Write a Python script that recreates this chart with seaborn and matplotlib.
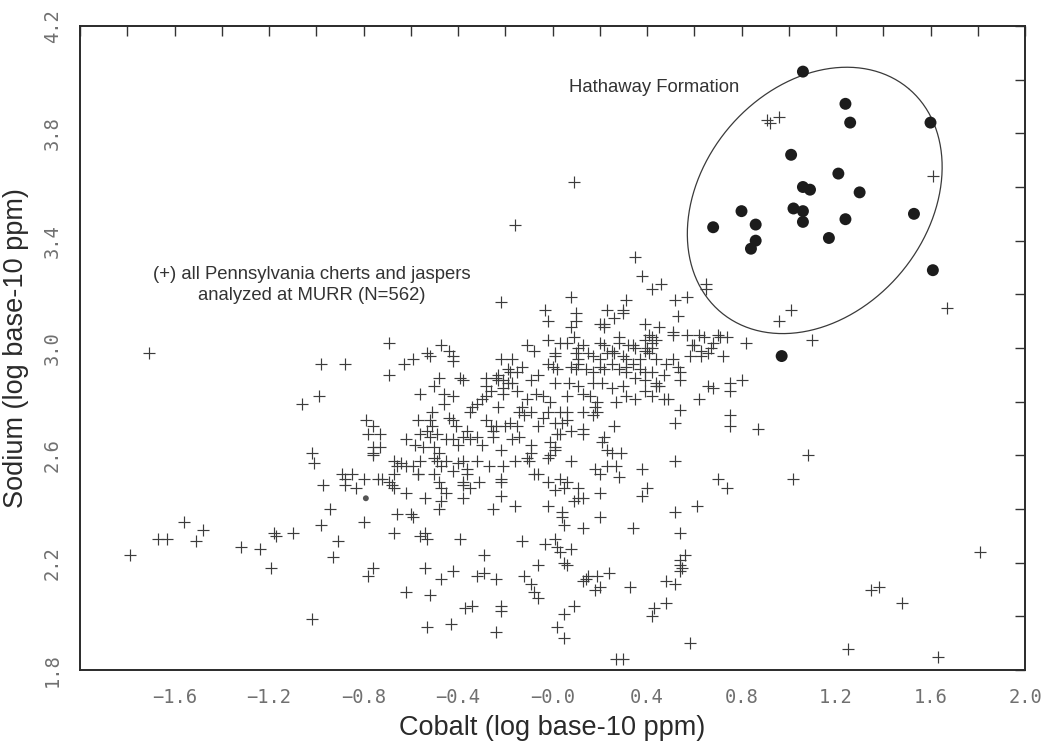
import numpy as np
import matplotlib
matplotlib.use("Agg")
import matplotlib.pyplot as plt
from matplotlib.ticker import MultipleLocator
import seaborn as sns

# ---- data ----
# all Pennsylvania cherts and jaspers (+)
cobalt_all = [
    # far left / left side
    -1.71, -0.98, -0.99, -1.06, -1.02, -1.01, -0.97, -0.94, -0.98, -0.91,
    -0.93, -1.56, -1.48, -1.67, -1.63, -1.51, -1.79, -1.32, -1.24, -1.18,
    -1.17, -1.10, -1.19, -1.02,
    # upper-left dense block
    -0.22, -0.69, -0.88, -0.69, -0.63, -0.59, -0.53, -0.52, -0.47, -0.44,
    -0.42, -0.42, -0.22, -0.17, -0.13, -0.15, -0.19, -0.18, -0.48, -0.50,
    -0.39, -0.38, -0.28, -0.24, -0.23, -0.23, -0.21, -0.19, -0.28, -0.26,
    -0.21, -0.21, -0.17, -0.15, -0.11, -0.56, -0.46, -0.42, -0.46, -0.28,
    -0.30, -0.32, -0.34, -0.35, -0.23, -0.13, -0.14, -0.12, -0.51, -0.44,
    -0.57, -0.52, -0.51, -0.42, -0.41, -0.28, -0.26, -0.24, -0.25, -0.20,
    -0.18, -0.15, -0.79, -0.76, -0.78, -0.73, -0.76, -0.76, -0.73, -0.76,
    -0.62, -0.58, -0.56, -0.53, -0.52, -0.49, -0.55, -0.50, -0.48, -0.45,
    -0.42, -0.40, -0.38, -0.36, -0.35, -0.32, -0.30, -0.25, -0.22, -0.17,
    -0.14, -0.67, -0.66, -0.64, -0.62, -0.59, -0.56, -0.57, -0.50, -0.49,
    -0.47, -0.45, -0.40, -0.38, -0.36, -0.32, -0.27, -0.21, -0.16, -0.11,
    # lower-left block
    -0.89, -0.88, -0.88, -0.85, -0.83, -0.80, -0.74, -0.72, -0.69, -0.68,
    -0.67, -0.67, -0.62, -0.57, -0.54, -0.50, -0.48, -0.47, -0.45, -0.47,
    -0.48, -0.42, -0.38, -0.38, -0.36, -0.35, -0.31, -0.38, -0.22, -0.22,
    -0.22, -0.25, -0.16, -0.66, -0.60, -0.59, -0.80, -0.67, -0.56, -0.54,
    -0.53, -0.39, -0.13, -0.29, -0.76, -0.78, -0.54, -0.42, -0.47, -0.32,
    -0.29, -0.24, -0.12, -0.62, -0.52, -0.37, -0.34, -0.22, -0.22, -0.53,
    -0.43, -0.24,
    # upper-right dense block
    0.35, 0.38, 0.46, 0.42, 0.65, 0.65, 0.31, 0.52, 0.57, 0.08,
    -0.03, -0.02, 0.23, 0.30, 0.30, 0.26, 0.10, 0.10, 0.08, 0.20,
    0.22, 0.22, 0.53, 0.39, 0.45, 0.51, 0.51, 0.57, 0.62, 0.64,
    0.70, 0.71, 0.74, 0.82, 0.68, 0.67, 0.66, 0.59, 0.60, 0.63,
    0.63, 0.72, 0.58, 0.41, 0.42, 0.42, 0.40, 0.42, 0.39, 0.41,
    0.39, 0.44, 0.28, 0.28, 0.32, 0.34, 0.35, 0.20, 0.22, 0.25,
    -0.02, 0.03, 0.06, 0.09, 0.11, 0.13, -0.11, -0.08, 0.01, 0.01,
    0.10, 0.11, 0.15, 0.17, 0.20, 0.23, 0.26, 0.30, 0.31, 0.34,
    0.31, 0.37, -0.02, 0.00, 0.02, 0.08, 0.10, 0.11, 0.14, 0.17,
    0.20, 0.22, 0.25, 0.28, 0.31, 0.44, 0.48, 0.51, 0.53, 0.54,
    0.54, 0.47, 0.37, 0.39, 0.42, 0.35, 0.39, 0.44, 0.45, -0.09,
    -0.06, 0.01, 0.07, 0.11, 0.17, 0.21, 0.25, 0.30, -0.07, -0.04,
    -0.01, 0.06, 0.13, 0.16, 0.19, 0.18, 0.27, 0.31, 0.35, 0.39,
    0.42, 0.44, 0.47, 0.49, 0.66, 0.68, 0.75, 0.80, 0.75, 0.62,
    0.54, 0.75, -0.09, -0.04, -0.02, 0.03, 0.06, 0.13, 0.17, 0.19,
    # lower-right block
    -0.06, 0.01, 0.04, 0.06, 0.02, 0.03, 0.08, 0.13, 0.13, 0.26,
    0.22, 0.21, -0.09, -0.09, -0.10, -0.01, 0.01, 0.01, -0.02, -0.01,
    0.23, 0.25, 0.29, 0.08, 0.52, -0.08, -0.06, 0.18, 0.20, 0.23,
    0.27, 0.28, 0.38, -0.02, 0.03, 0.06, 0.01, 0.05, 0.11, 0.40,
    0.20, 0.38, 0.09, 0.11, 0.13, -0.02, 0.70, 0.74, 0.61, 0.52,
    0.04, 0.04, 0.05, 0.20, 0.13, 0.34, 0.54, -0.03, 0.01, 0.02,
    0.03, 0.08, 0.05, 0.06, -0.06, 0.56, 0.54, 0.54, 0.54, 0.55,
    0.24, 0.19, 0.15, 0.13, 0.14, 0.20, 0.18, 0.33, 0.48, 0.52,
    -0.09, -0.08, -0.06, 0.09, 0.05, 0.48, 0.43, 0.42, 0.02, 0.05,
    0.58, 0.27, 0.30, 0.75, 0.87, 0.52,
    # scattered outliers (right and top)
    0.91, 0.92, 0.96, 1.61, 1.01, 0.96, 1.67, 1.10,
    1.08, 1.02, 1.81, 1.35, 1.38, 1.48, 1.25, 1.63,
    0.09, -0.16,
]
sodium_all = [
    # far left / left side
    2.98, 2.94, 2.82, 2.79, 2.61, 2.57, 2.49, 2.40, 2.34, 2.28,
    2.22, 2.35, 2.32, 2.29, 2.29, 2.28, 2.23, 2.26, 2.25, 2.31,
    2.30, 2.31, 2.18, 1.99,
    # upper-left dense block
    3.17, 3.02, 2.94, 2.90, 2.94, 2.96, 2.98, 2.97, 3.01, 2.99,
    2.97, 2.95, 2.96, 2.96, 2.93, 2.91, 2.92, 2.91, 2.89, 2.86,
    2.89, 2.88, 2.89, 2.89, 2.88, 2.90, 2.88, 2.87, 2.86, 2.84,
    2.83, 2.85, 2.87, 2.84, 2.81, 2.83, 2.83, 2.82, 2.79, 2.82,
    2.81, 2.79, 2.78, 2.76, 2.78, 2.78, 2.76, 2.75, 2.76, 2.74,
    2.73, 2.73, 2.71, 2.73, 2.71, 2.73, 2.71, 2.71, 2.69, 2.71,
    2.72, 2.71, 2.73, 2.71, 2.68, 2.68, 2.63, 2.61, 2.63, 2.60,
    2.66, 2.64, 2.68, 2.69, 2.67, 2.68, 2.63, 2.63, 2.61, 2.66,
    2.66, 2.64, 2.67, 2.69, 2.66, 2.67, 2.64, 2.67, 2.62, 2.66,
    2.67, 2.58, 2.56, 2.57, 2.56, 2.56, 2.58, 2.53, 2.59, 2.58,
    2.56, 2.58, 2.57, 2.58, 2.55, 2.58, 2.56, 2.56, 2.58, 2.59,
    # lower-left block
    2.53, 2.51, 2.49, 2.53, 2.48, 2.51, 2.51, 2.51, 2.50, 2.49,
    2.53, 2.48, 2.46, 2.53, 2.44, 2.53, 2.50, 2.48, 2.46, 2.43,
    2.40, 2.54, 2.50, 2.49, 2.53, 2.48, 2.50, 2.44, 2.51, 2.50,
    2.45, 2.40, 2.41, 2.38, 2.38, 2.37, 2.35, 2.31, 2.30, 2.31,
    2.29, 2.29, 2.28, 2.23, 2.18, 2.15, 2.18, 2.17, 2.14, 2.15,
    2.16, 2.14, 2.15, 2.09, 2.08, 2.03, 2.04, 2.04, 2.02, 1.96,
    1.97, 1.94,
    # upper-right dense block
    3.34, 3.27, 3.24, 3.22, 3.24, 3.22, 3.18, 3.18, 3.19, 3.19,
    3.14, 3.10, 3.14, 3.14, 3.13, 3.11, 3.13, 3.10, 3.08, 3.09,
    3.08, 3.09, 3.12, 3.09, 3.08, 3.06, 3.05, 3.05, 3.05, 3.04,
    3.05, 3.04, 3.04, 3.02, 3.02, 3.00, 2.98, 3.01, 3.01, 2.99,
    2.97, 2.97, 2.97, 3.05, 3.04, 3.02, 3.00, 3.00, 2.99, 2.98,
    3.03, 3.03, 3.04, 3.02, 3.01, 3.01, 3.00, 3.02, 3.01, 2.99,
    3.03, 3.02, 3.02, 3.04, 3.00, 3.01, 3.01, 2.99, 2.98, 2.97,
    2.98, 2.96, 2.98, 2.97, 2.96, 2.98, 2.98, 2.97, 2.96, 2.94,
    2.93, 2.96, 2.94, 2.93, 2.92, 2.93, 2.92, 2.94, 2.92, 2.91,
    2.93, 2.92, 2.94, 2.92, 2.91, 2.96, 2.94, 2.96, 2.93, 2.91,
    2.88, 2.90, 2.92, 2.91, 2.91, 2.89, 2.88, 2.87, 2.86, 2.88,
    2.90, 2.87, 2.87, 2.86, 2.87, 2.87, 2.85, 2.86, 2.83, 2.82,
    2.80, 2.82, 2.83, 2.82, 2.80, 2.78, 2.80, 2.82, 2.81, 2.84,
    2.82, 2.86, 2.81, 2.81, 2.86, 2.85, 2.87, 2.88, 2.84, 2.81,
    2.77, 2.75, 2.76, 2.74, 2.76, 2.76, 2.76, 2.76, 2.75, 2.76,
    # lower-right block
    2.71, 2.72, 2.72, 2.73, 2.68, 2.68, 2.69, 2.70, 2.68, 2.71,
    2.67, 2.65, 2.64, 2.61, 2.58, 2.65, 2.63, 2.62, 2.59, 2.60,
    2.62, 2.61, 2.61, 2.58, 2.58, 2.53, 2.53, 2.55, 2.53, 2.56,
    2.56, 2.52, 2.55, 2.50, 2.51, 2.50, 2.47, 2.48, 2.48, 2.48,
    2.46, 2.45, 2.43, 2.44, 2.44, 2.41, 2.51, 2.48, 2.41, 2.39,
    2.39, 2.37, 2.34, 2.37, 2.33, 2.33, 2.31, 2.27, 2.29, 2.26,
    2.24, 2.25, 2.20, 2.19, 2.19, 2.23, 2.21, 2.19, 2.17, 2.18,
    2.16, 2.15, 2.15, 2.13, 2.14, 2.11, 2.10, 2.11, 2.13, 2.12,
    2.12, 2.09, 2.07, 2.04, 2.01, 2.05, 2.03, 2.00, 1.96, 1.92,
    1.90, 1.84, 1.84, 2.71, 2.70, 2.72,
    # scattered outliers (right and top)
    3.85, 3.84, 3.86, 3.64, 3.14, 3.10, 3.15, 3.03,
    2.60, 2.51, 2.24, 2.10, 2.11, 2.05, 1.88, 1.85,
    3.62, 3.46,
]

# Hathaway Formation samples (filled circles)
hathaway_cobalt = [1.06, 1.24, 1.26, 1.60, 1.01, 1.21, 1.06, 1.09, 1.30, 0.80,
                   1.02, 1.06, 1.06, 1.24, 1.53, 0.86, 0.68, 0.86, 0.84, 1.17,
                   1.61, 0.97]
hathaway_sodium = [4.03, 3.91, 3.84, 3.84, 3.72, 3.65, 3.60, 3.59, 3.58, 3.51,
                   3.52, 3.51, 3.47, 3.48, 3.50, 3.46, 3.45, 3.40, 3.37, 3.41,
                   3.29, 2.97]

# one small dot inside the main cloud
small_dot_cobalt = [-0.79]
small_dot_sodium = [2.44]

x_ticks = [-1.6, -1.2, -0.8, -0.4, 0.0, 0.4, 0.8, 1.2, 1.6, 2.0]
x_tick_labels = ["\u22121.6", "\u22121.2", "\u22120.8", "\u22120.4", "\u22120.0",
                 "0.4", "0.8", "1.2", "1.6", "2.0"]
y_ticks = [1.8, 2.2, 2.6, 3.0, 3.4, 3.8, 4.2]
y_tick_labels = ["1.8", "2.2", "2.6", "3.0", "3.4", "3.8", "4.2"]

# ellipse around the Hathaway group (centre in data units; axes in pixels)
ell_center = (1.11, 3.55)
ell_a_px, ell_b_px, ell_angle_deg = 146.0, 112.5, 50.0

# ---- figure ----
sns.set_style("white")
plt.rcParams["font.family"] = ["Liberation Sans", "DejaVu Sans"]

W, H, DPI = 1045, 742, 100
fig = plt.figure(figsize=(W / DPI, H / DPI), dpi=DPI)
ax_l, ax_b, ax_w, ax_h = 80 / W, 72 / H, 945 / W, 644 / H
ax = fig.add_axes([ax_l, ax_b, ax_w, ax_h])

sns.scatterplot(x=cobalt_all, y=sodium_all, marker="+", s=85, color="#3c3c3c",
                linewidth=0.85, ax=ax, legend=False, zorder=3)
sns.scatterplot(x=hathaway_cobalt, y=hathaway_sodium, marker="o", s=74,
                color="#1c1c1c", edgecolor="none", ax=ax, legend=False, zorder=4)
sns.scatterplot(x=small_dot_cobalt, y=small_dot_sodium, marker="o", s=18,
                color="#555555", edgecolor="none", ax=ax, legend=False, zorder=4)

ax.set_xlim(-2.0, 2.0)
ax.set_ylim(1.8, 4.2)

# ellipse
px_x = ax_w * W / 4.0
px_y = ax_h * H / 2.4
t = np.linspace(0, 2 * np.pi, 400)
th = np.deg2rad(ell_angle_deg)
ex = ell_center[0] + (ell_a_px * np.cos(t) * np.cos(th) - ell_b_px * np.sin(t) * np.sin(th)) / px_x
ey = ell_center[1] + (ell_a_px * np.cos(t) * np.sin(th) + ell_b_px * np.sin(t) * np.cos(th)) / px_y
ax.plot(ex, ey, color="#3a3a3a", lw=0.9, zorder=2)

# ticks
ax.set_xticks(x_ticks)
ax.set_xticklabels(x_tick_labels)
ax.set_yticks(y_ticks)
ax.set_yticklabels(y_tick_labels, rotation=90, va="center")
ax.xaxis.set_minor_locator(MultipleLocator(0.2))
ax.yaxis.set_minor_locator(MultipleLocator(0.2))
ax.tick_params(which="both", direction="in", length=7, width=1.0,
               top=True, right=True, color="#333333",
               labelcolor="#707070", labelsize=13.5, pad=13)
for lab in ax.get_xticklabels() + ax.get_yticklabels():
    lab.set_fontfamily("DejaVu Sans Mono")

for sp in ax.spines.values():
    sp.set_color("#2a2a2a")
    sp.set_linewidth(1.4)

ax.set_xlabel("Cobalt (log base-10 ppm)", fontsize=19.5, color="#2a2a2a", labelpad=6)
ax.set_ylabel("Sodium (log base-10 ppm)", fontsize=19.5, color="#2a2a2a", labelpad=10)

ax.text(0.43, 3.97, "Hathaway Formation", fontsize=13.3, color="#333333",
        ha="center", va="center")
ax.text(-1.02, 3.235, "(+) all Pennsylvania cherts and jaspers\nanalyzed at MURR (N=562)",
        fontsize=13.3, color="#333333", ha="center", va="center", linespacing=1.3)

fig.savefig("out.png", dpi=DPI, facecolor="white")
